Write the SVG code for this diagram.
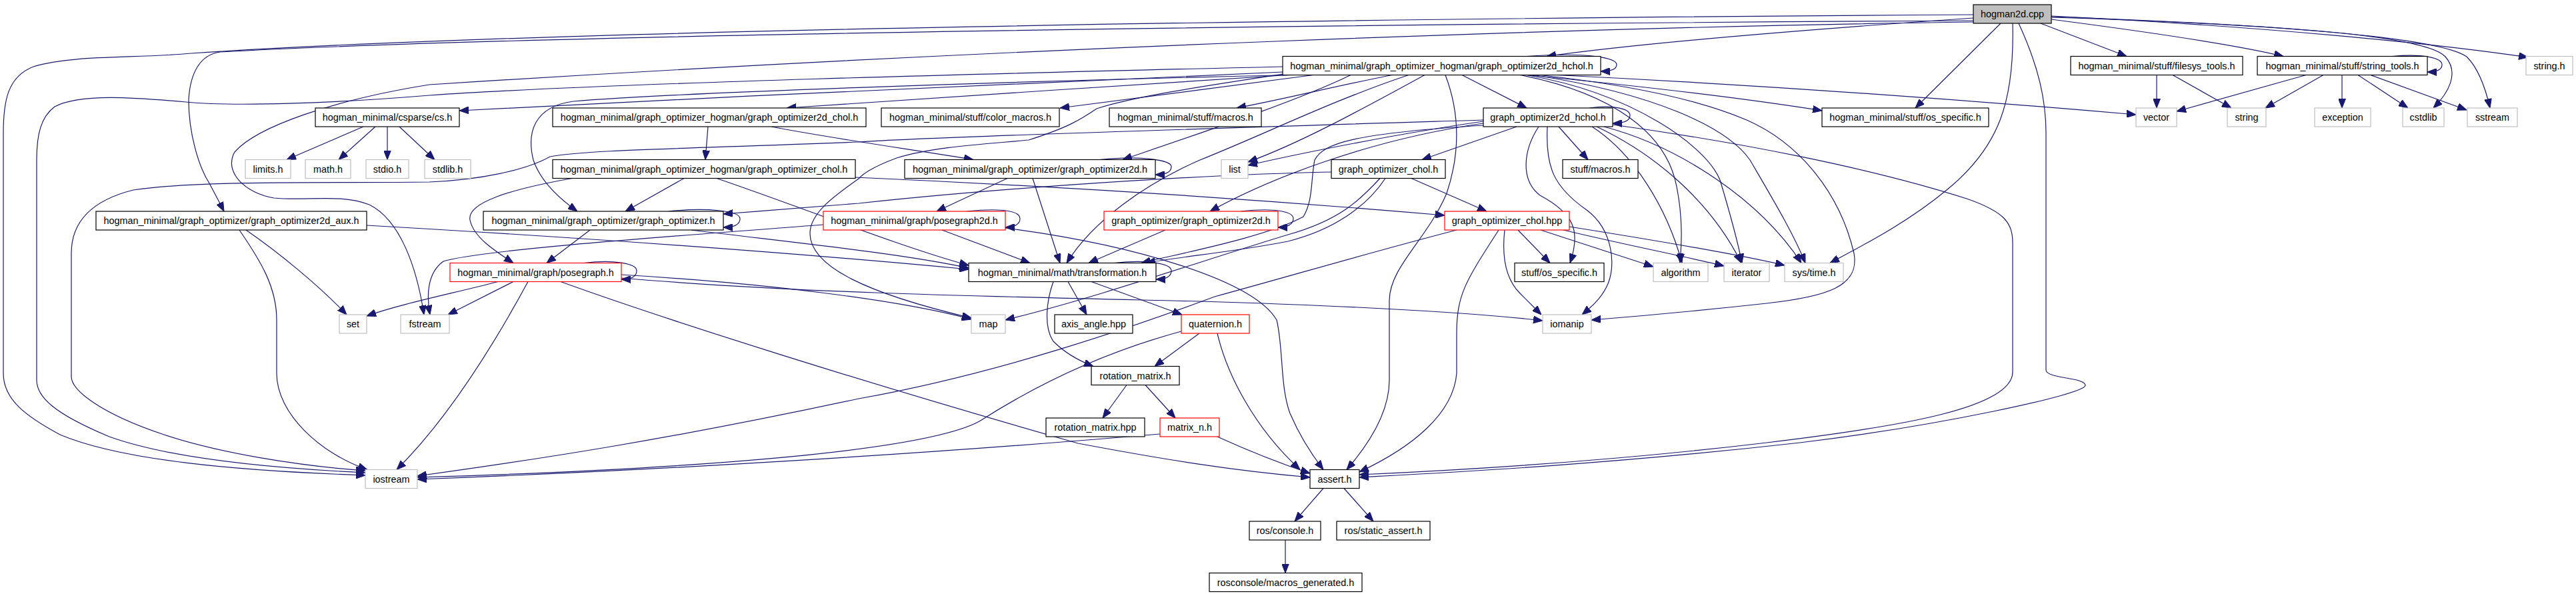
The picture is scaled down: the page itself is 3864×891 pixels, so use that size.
<svg xmlns="http://www.w3.org/2000/svg" width="3864" height="891" viewBox="0 0 3864 891">
<style>
rect{fill:#fff;stroke:#000;stroke-width:1.2}
.g rect{stroke:#bfbfbf}
.r rect{stroke:#ff0000}
.root rect{fill:#bfbfbf}
text{font-family:"Liberation Sans",Arial,Helvetica,sans-serif;font-size:14.4px;text-anchor:middle;fill:#000}
#edges path{fill:none;stroke:#191970;stroke-width:1.2;marker-end:url(#a)}
</style>
<defs>
<marker id="a" markerUnits="userSpaceOnUse" markerWidth="14" markerHeight="11" refX="14" refY="5.5" viewBox="0 0 14 11" orient="auto">
<path d="M0,0 L14,5.5 L0,11 z" fill="#191970" stroke="#191970" stroke-width="1"/>
</marker>
</defs>
<rect x="0" y="0" width="3864" height="891" style="fill:#fff;stroke:none"/>
<g id="edges">
<path d="M2960,27 C2700,45 2450,66 2320,84.5"/>
<path d="M3061,35 L3190,84.5"/>
<path d="M3077,29 C3200,45 3350,66 3425,84.5"/>
<path d="M3077,24 C3400,40 3650,65 3792,86"/>
<path d="M3077,26 C3450,38 3640,55 3668,85 C3690,110 3672,140 3650,162"/>
<path d="M3077,25 C3450,38 3660,58 3700,85 C3720,105 3730,140 3735,162"/>
<path d="M3001,35 L2873,162"/>
<path d="M3019,35 C3022,150 3000,220 2920,285 C2860,335 2790,370 2745,394.5"/>
<path d="M3028,35 C3058,100 3069,150 3069,200 L3069,555 C3069,568 3128,566 3128,578 C3128,592 2900,640 2700,664 C2400,698 2150,710 2039,716"/>
<path d="M2419,187 C2600,212 2800,250 2950,298 C3008,318 3019,335 3019,365 L3019,558 C3019,612 2850,640 2650,664 C2400,694 2150,707 2039,712"/>
<path d="M2960,22 C2000,28 800,45 287,80 C200,88 110,82 50,100 C12,115 5,150 5,200 L5,560 C5,600 40,625 90,652 C180,690 350,706 548,713"/>
<path d="M2960,31 C2000,36 800,52 330,78 C300,82 285,110 283,150 C283,200 298,250 314,275 C322,290 330,305 336,317"/>
<path d="M2960,33 C2400,40 1500,72 644,127 C500,150 385,190 352,228 C335,258 368,290 411,297 C460,302 510,290 554,307 C600,330 625,400 636,472"/>
<path d="M1924,100 C1500,110 900,125 644,143 C500,155 350,160 279,153 C200,146 120,140 82,160 C62,175 55,200 55,240 L55,570 C55,595 80,620 164,655 C250,686 400,702 548,709"/>
<path d="M2225,180 C1900,190 1400,205 1288,213 C1000,224 880,225 825,235 C790,255 720,270 644,273 C500,275 300,270 200,285 C140,300 107,330 107,380 L107,565 C107,585 150,620 246,652 C330,680 450,699 548,706"/>
<path d="M2290,84.5 C2385,78 2425,87 2425,97 C2425,104 2415,107 2401,107"/>
<path d="M1924,108 C1600,120 1100,145 689,166"/>
<path d="M1932,112.5 C1700,128 1400,146 1180,162"/>
<path d="M1970,112.5 C1850,128 1700,148 1590,162"/>
<path d="M2088,112.5 C2000,130 1920,150 1855,162"/>
<path d="M2193,112.5 L2290,162"/>
<path d="M2290,112.5 C2450,128 2620,148 2733,166"/>
<path d="M2335,112.5 C2650,128 2950,150 3204,172"/>
<path d="M1940,112.5 C1500,122 1000,140 860,152 C800,160 790,200 800,240 C810,270 835,295 866,317"/>
<path d="M2026,112.5 C1950,150 1800,200 1684,239.5"/>
<path d="M2137,112.5 C2050,160 1950,215 1872,243"/>
<path d="M2225,182 C2100,200 1950,230 1872,248"/>
<path d="M2113,112.5 C2000,150 1900,200 1800,240 C1720,275 1640,330 1600,394.5"/>
<path d="M2280,112.5 C2420,140 2500,200 2515,280 C2525,330 2522,370 2520,394.5"/>
<path d="M2290,112.5 C2450,140 2560,220 2580,270 C2595,320 2606,360 2613,394.5"/>
<path d="M2300,112.5 C2480,140 2590,190 2625,240 C2660,300 2690,350 2708,394.5"/>
<path d="M2310,112.5 C2450,128 2550,150 2620,180 C2700,215 2760,290 2781,380 C2790,430 2740,445 2650,455 C2550,466 2450,475 2387,480"/>
<path d="M1932,110 C1800,130 1700,145 1645,163 C1620,180 1600,192 1543,210 C1480,216 1400,220 1345,237 C1310,250 1295,260 1288,268 C1250,295 1215,320 1215,350 C1215,400 1300,440 1457,477"/>
<path d="M545,190 L430,239.5"/>
<path d="M563,190 L508,239.5"/>
<path d="M581,190 L581,239.5"/>
<path d="M599,190 L652,239.5"/>
<path d="M1062,190 L1058,239.5"/>
<path d="M1157,190 C1250,208 1380,226 1460,239.5"/>
<path d="M1026,267.5 L938,317"/>
<path d="M858,267.5 C760,285 700,305 705,330 C710,355 740,375 770,394.5"/>
<path d="M1075,267.5 C1200,310 1350,370 1453,398"/>
<path d="M1283,266 C1600,280 1900,300 2167,323"/>
<path d="M1650,239.5 C1712,233 1757,240 1757,250 C1757,259 1748,262 1733,262"/>
<path d="M1511,267.5 L1405,317"/>
<path d="M1549,267.5 L1590,394.5"/>
<path d="M1997,258 C1800,262 1500,282 1288,305 C1200,312 1150,316 1085,321"/>
<path d="M2117,267.5 L2230,317"/>
<path d="M2078,267.5 C2050,310 2000,345 1932,362 C1850,378 1770,385 1719,394.5"/>
<path d="M2070,267.5 C2040,300 2010,330 1932,352 C1800,392 1650,445 1508,480"/>
<path d="M2384,162 C2420,157 2445,163 2445,173 C2445,181 2435,185 2419,185"/>
<path d="M2275,190 L2133,239.5"/>
<path d="M2338,190 L2382,239.5"/>
<path d="M2308,190 C2285,225 2280,270 2310,293 C2360,320 2372,345 2355,394.5"/>
<path d="M2321,190 C2318,250 2330,280 2380,315 C2420,345 2425,400 2410,430 C2400,450 2385,462 2373,472"/>
<path d="M2388,190 C2450,230 2500,310 2523,394.5"/>
<path d="M2395,190 C2480,230 2565,300 2612,394.5"/>
<path d="M2406,190 C2520,220 2640,300 2702,394.5"/>
<path d="M2225,185 C2050,210 1900,270 1815,317"/>
<path d="M2225,188 C2030,200 1985,215 1972,240 C1966,270 1970,300 1955,325 C1900,355 1780,378 1712,394.5"/>
<path d="M1450,317 C1510,311 1530,318 1530,328 C1530,337 1520,341 1508,341"/>
<path d="M1413,345 L1545,394.5"/>
<path d="M1508,342 C1700,367 1880,420 1915,480 C1925,520 1920,580 1935,620 C1950,655 1970,685 1985,704.5"/>
<path d="M1235,337 C1000,355 720,375 665,392 C640,410 640,445 645,472"/>
<path d="M1861,317 C1915,311 1940,318 1940,328 C1940,337 1930,341 1917,341"/>
<path d="M1748,345 L1633,394.5"/>
<path d="M1003,317 C1060,311 1110,316 1110,328 C1110,338 1100,341 1085,341"/>
<path d="M885,345 L820,394.5"/>
<path d="M1037,345 C1200,365 1350,380 1453,402"/>
<path d="M876,394.5 C920,389 955,395 955,406 C955,416 945,419 932,419"/>
<path d="M747,422.5 C680,440 600,456 550,474"/>
<path d="M770,422.5 L672,472"/>
<path d="M792,422.5 C750,500 680,620 595,704.5"/>
<path d="M841,422.5 C1000,480 1300,575 1617,665 C1750,690 1850,706 1965,716"/>
<path d="M932,412 C1150,425 1350,450 1457,479"/>
<path d="M932,417 C1200,440 1500,445 1800,452 C2000,458 2200,468 2314,481"/>
<path d="M369,345 C420,380 480,430 520,472"/>
<path d="M359,345 C390,390 415,430 415,480 L415,560 C415,620 480,680 551,704.5"/>
<path d="M550,338 C900,358 1200,380 1453,404"/>
<path d="M1672,394.5 C1720,389 1757,395 1757,406 C1757,416 1747,419 1734,419"/>
<path d="M1602,422.5 L1630,472"/>
<path d="M1637,422.5 L1773,472"/>
<path d="M1580,422.5 C1570,450 1565,490 1580,512 C1598,530 1618,541 1640,549.5"/>
<path d="M1799,500 L1732,549.5"/>
<path d="M1772,497 C1650,530 1550,580 1469,632 C1380,680 1000,705 626,716"/>
<path d="M1740,651 C1400,680 1000,705 626,719"/>
<path d="M1826,500 C1840,560 1880,640 1950,704.5"/>
<path d="M1826,655 C1870,675 1920,695 1965,710"/>
<path d="M1690,577.5 L1654,627"/>
<path d="M1718,577.5 L1763,627"/>
<path d="M2277,345 L2325,394.5"/>
<path d="M2311,345 L2480,400"/>
<path d="M2345,345 C2450,370 2530,385 2586,399"/>
<path d="M2354,340 C2480,360 2600,380 2677,398"/>
<path d="M2257,345 C2252,390 2260,420 2280,440 C2295,455 2302,462 2312,472"/>
<path d="M2248,345 C2200,420 2185,440 2185,500 L2185,560 C2180,620 2120,670 2039,708"/>
<path d="M2185,345 C2050,380 1950,410 1822,445 C1700,490 1500,560 1288,598 C1000,660 800,690 626,714"/>
<path d="M2168,112.5 C2190,170 2190,230 2170,290 C2140,360 2085,400 2084,450 L2084,570 C2084,620 2050,670 2020,704.5"/>
<path d="M1985,732.5 L1942,782"/>
<path d="M2016,732.5 L2060,782"/>
<path d="M1928,810 L1928,859.5"/>
<path d="M3588,84.5 C3635,80 3663,87 3663,97 C3663,105 3655,108 3641,108"/>
<path d="M3235,112.5 L3235,162"/>
<path d="M3259,112.5 L3347,162"/>
<path d="M3459,112.5 L3265,167"/>
<path d="M3485,112.5 L3398,162"/>
<path d="M3513,112.5 L3513,162"/>
<path d="M3537,112.5 L3612,162"/>
<path d="M3556,112.5 L3700,165"/>
</g>
<g id="n0" class="root"><rect x="2960" y="7" width="117" height="28"/><text x="3018.5" y="26">hogman2d.cpp</text></g>
<g id="n1"><rect x="1924" y="84.5" width="477" height="28"/><text x="2162.5" y="103.5">hogman_minimal/graph_optimizer_hogman/graph_optimizer2d_hchol.h</text></g>
<g id="n2"><rect x="3106" y="84.5" width="258" height="28"/><text x="3235" y="103.5">hogman_minimal/stuff/filesys_tools.h</text></g>
<g id="n3"><rect x="3386" y="84.5" width="255" height="28"/><text x="3513.5" y="103.5">hogman_minimal/stuff/string_tools.h</text></g>
<g id="n4" class="g"><rect x="3789" y="84.5" width="70" height="28"/><text x="3824" y="103.5">string.h</text></g>
<g id="n5"><rect x="473" y="162" width="216" height="28"/><text x="581" y="181">hogman_minimal/csparse/cs.h</text></g>
<g id="n6"><rect x="829" y="162" width="470" height="28"/><text x="1064" y="181">hogman_minimal/graph_optimizer_hogman/graph_optimizer2d_chol.h</text></g>
<g id="n7"><rect x="1322" y="162" width="267" height="28"/><text x="1455.5" y="181">hogman_minimal/stuff/color_macros.h</text></g>
<g id="n8"><rect x="1664" y="162" width="228" height="28"/><text x="1778" y="181">hogman_minimal/stuff/macros.h</text></g>
<g id="n9"><rect x="2225" y="162" width="194" height="28"/><text x="2322" y="181">graph_optimizer2d_hchol.h</text></g>
<g id="n10"><rect x="2733" y="162" width="250" height="28"/><text x="2858" y="181">hogman_minimal/stuff/os_specific.h</text></g>
<g id="n11" class="g"><rect x="3204" y="162" width="61" height="28"/><text x="3234.5" y="181">vector</text></g>
<g id="n12" class="g"><rect x="3341" y="162" width="58" height="28"/><text x="3370" y="181">string</text></g>
<g id="n13" class="g"><rect x="3472" y="162" width="84" height="28"/><text x="3514" y="181">exception</text></g>
<g id="n14" class="g"><rect x="3604" y="162" width="62" height="28"/><text x="3635" y="181">cstdlib</text></g>
<g id="n15" class="g"><rect x="3701" y="162" width="75" height="28"/><text x="3738.5" y="181">sstream</text></g>
<g id="n16" class="g"><rect x="368" y="239.5" width="68" height="28"/><text x="402" y="258.5">limits.h</text></g>
<g id="n17" class="g"><rect x="458" y="239.5" width="68" height="28"/><text x="492" y="258.5">math.h</text></g>
<g id="n18" class="g"><rect x="549" y="239.5" width="64" height="28"/><text x="581" y="258.5">stdio.h</text></g>
<g id="n19" class="g"><rect x="637" y="239.5" width="69" height="28"/><text x="671.5" y="258.5">stdlib.h</text></g>
<g id="n20"><rect x="829" y="239.5" width="454" height="28"/><text x="1056" y="258.5">hogman_minimal/graph_optimizer_hogman/graph_optimizer_chol.h</text></g>
<g id="n21"><rect x="1357" y="239.5" width="376" height="28"/><text x="1545" y="258.5">hogman_minimal/graph_optimizer/graph_optimizer2d.h</text></g>
<g id="n22" class="g"><rect x="1832" y="239.5" width="40" height="28"/><text x="1852" y="258.5">list</text></g>
<g id="n23"><rect x="1997" y="239.5" width="171" height="28"/><text x="2082.5" y="258.5">graph_optimizer_chol.h</text></g>
<g id="n24"><rect x="2344" y="239.5" width="113" height="28"/><text x="2400.5" y="258.5">stuff/macros.h</text></g>
<g id="n25"><rect x="144" y="317" width="406" height="28"/><text x="347" y="336">hogman_minimal/graph_optimizer/graph_optimizer2d_aux.h</text></g>
<g id="n26"><rect x="725" y="317" width="360" height="28"/><text x="905" y="336">hogman_minimal/graph_optimizer/graph_optimizer.h</text></g>
<g id="n27" class="r"><rect x="1235" y="317" width="273" height="28"/><text x="1371.5" y="336">hogman_minimal/graph/posegraph2d.h</text></g>
<g id="n28" class="r"><rect x="1656" y="317" width="261" height="28"/><text x="1786.5" y="336">graph_optimizer/graph_optimizer2d.h</text></g>
<g id="n29" class="r"><rect x="2167" y="317" width="187" height="28"/><text x="2260.5" y="336">graph_optimizer_chol.hpp</text></g>
<g id="n30" class="r"><rect x="675" y="394.5" width="257" height="28"/><text x="803.5" y="413.5">hogman_minimal/graph/posegraph.h</text></g>
<g id="n31"><rect x="1453" y="394.5" width="281" height="28"/><text x="1593.5" y="413.5">hogman_minimal/math/transformation.h</text></g>
<g id="n32"><rect x="2272" y="394.5" width="134" height="28"/><text x="2339" y="413.5">stuff/os_specific.h</text></g>
<g id="n33" class="g"><rect x="2480" y="394.5" width="82" height="28"/><text x="2521" y="413.5">algorithm</text></g>
<g id="n34" class="g"><rect x="2586" y="394.5" width="68" height="28"/><text x="2620" y="413.5">iterator</text></g>
<g id="n35" class="g"><rect x="2677" y="394.5" width="88" height="28"/><text x="2721" y="413.5">sys/time.h</text></g>
<g id="n36" class="g"><rect x="509" y="472" width="41" height="28"/><text x="529.5" y="491">set</text></g>
<g id="n37" class="g"><rect x="601" y="472" width="73" height="28"/><text x="637.5" y="491">fstream</text></g>
<g id="n38" class="g"><rect x="1457" y="472" width="51" height="28"/><text x="1482.5" y="491">map</text></g>
<g id="n39"><rect x="1582" y="472" width="117" height="28"/><text x="1640.5" y="491">axis_angle.hpp</text></g>
<g id="n40" class="r"><rect x="1772" y="472" width="102" height="28"/><text x="1823" y="491">quaternion.h</text></g>
<g id="n41" class="g"><rect x="2314" y="472" width="73" height="28"/><text x="2350.5" y="491">iomanip</text></g>
<g id="n42"><rect x="1637" y="549.5" width="132" height="28"/><text x="1703" y="568.5">rotation_matrix.h</text></g>
<g id="n43"><rect x="1569" y="627" width="148" height="28"/><text x="1643" y="646">rotation_matrix.hpp</text></g>
<g id="n44" class="r"><rect x="1740" y="627" width="89" height="28"/><text x="1784.5" y="646">matrix_n.h</text></g>
<g id="n45" class="g"><rect x="548" y="704.5" width="78" height="28"/><text x="587" y="723.5">iostream</text></g>
<g id="n46"><rect x="1965" y="704.5" width="74" height="28"/><text x="2002" y="723.5">assert.h</text></g>
<g id="n47"><rect x="1874" y="782" width="107" height="28"/><text x="1927.5" y="801">ros/console.h</text></g>
<g id="n48"><rect x="2005" y="782" width="140" height="28"/><text x="2075" y="801">ros/static_assert.h</text></g>
<g id="n49"><rect x="1814" y="859.5" width="229" height="28"/><text x="1928.5" y="878.5">rosconsole/macros_generated.h</text></g>
</svg>
